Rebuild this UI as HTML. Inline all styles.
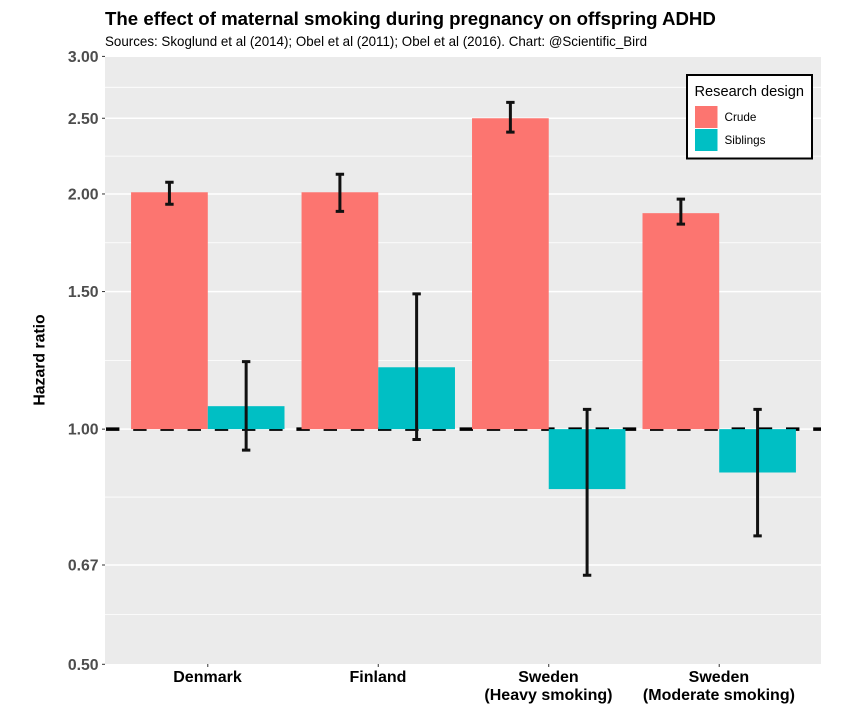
<!DOCTYPE html>
<html lang="en">
<head>
<meta charset="utf-8">
<title>The effect of maternal smoking during pregnancy on offspring ADHD</title>
<style>
html,body{margin:0;padding:0;background:#fff;width:850px;height:726px;overflow:hidden}
svg{display:block}
text{font-family:"Liberation Sans",Arial,sans-serif}
</style>
</head>
<body>
<svg id="chart" xmlns="http://www.w3.org/2000/svg" width="850" height="726" viewBox="0 0 850 726">
  <rect width="850" height="726" fill="#ffffff"/>
  <text x="105" y="25" font-size="18.67" font-weight="700" fill="#000">The effect of maternal smoking during pregnancy on offspring ADHD</text>
  <text x="105" y="46" font-size="13.36" fill="#000">Sources: Skoglund et al (2014); Obel et al (2011); Obel et al (2016). Chart: @Scientific_Bird</text>
  <rect x="105" y="57" width="716" height="607" fill="#EBEBEB"/>
  <g id="grid"></g>
  <g id="refline"></g>
  <g id="bars"></g>
  <g id="errors"></g>
  <g id="yaxis"></g>
  <g id="xaxis"></g>
  <text transform="translate(44.5,360) rotate(-90)" text-anchor="middle" font-size="15.8" font-weight="700" fill="#000">Hazard ratio</text>
  <g>
    <rect x="687" y="75" width="125" height="83.5" fill="#fff" stroke="#000" stroke-width="2"/>
    <text x="694.5" y="96" font-size="14.6" fill="#000">Research design</text>
    <rect x="695" y="106" width="22.5" height="22" fill="#FC7570"/>
    <text x="724.5" y="121" font-size="11.7" fill="#000">Crude</text>
    <rect x="695" y="129" width="22.5" height="22" fill="#00BFC4"/>
    <text x="724.5" y="144" font-size="11.7" fill="#000">Siblings</text>
  </g>
</svg>
<script>
const categories = [["Denmark"], ["Finland"], ["Sweden", "(Heavy smoking)"], ["Sweden", "(Moderate smoking)"]];
const crudeValues = [2.01, 2.01, 2.50, 1.89];
const crudeLower = [1.94, 1.90, 2.40, 1.83];
const crudeUpper = [2.07, 2.12, 2.62, 1.97];
const siblingValues = [1.07, 1.20, 0.838, 0.88];
const siblingLower = [0.94, 0.97, 0.65, 0.73];
const siblingUpper = [1.22, 1.49, 1.06, 1.06];
const yTickValues = [0.5, 0.67, 1, 1.5, 2, 2.5, 3];
const yTickLabels = ["0.50", "0.67", "1.00", "1.50", "2.00", "2.50", "3.00"];
const referenceValue = [1];

const NS = "http://www.w3.org/2000/svg";
const panel = { left: 105, right: 821, top: 56.4, bottom: 664.3 };
const yMin = Math.min(...yTickValues);
const yMax = Math.max(...yTickValues);
const unitWidth = (panel.right - panel.left) / (categories.length - 1 + 1.2);
const barWidth = unitWidth * 0.45;

function xBand(i) {
  return panel.left + 0.6 * unitWidth + i * unitWidth + 0.5;
}
function yScale(v) {
  const t = (Math.log(v) - Math.log(yMin)) / (Math.log(yMax) - Math.log(yMin));
  return panel.bottom - t * (panel.bottom - panel.top);
}
function make(tag, attrs, parent) {
  const el = document.createElementNS(NS, tag);
  for (const k in attrs) el.setAttribute(k, attrs[k]);
  parent.appendChild(el);
  return el;
}

const grid = document.getElementById("grid");
const refGroup = document.getElementById("refline");
const barsGroup = document.getElementById("bars");
const errGroup = document.getElementById("errors");
const yGroup = document.getElementById("yaxis");
const xGroup = document.getElementById("xaxis");

yTickValues.forEach(function (v, i) {
  const y = yScale(v);
  if (i > 0 && i < yTickValues.length - 1) {
    const major = make("line", { x1: panel.left, x2: panel.right, y1: y, y2: y, stroke: "#fff", "stroke-width": 1.5 }, grid);
    
    
  }
  if (i > 0) {
    const ym = yScale(Math.sqrt(v * yTickValues[i - 1]));
    const minor = make("line", { x1: panel.left, x2: panel.right, y1: ym, y2: ym, stroke: "#fff", "stroke-width": 0.8 }, grid);
    
    
  }
  const tick = make("line", { x1: panel.left - 3, x2: panel.left, y1: y, y2: y, stroke: "#333", "stroke-width": 1 }, yGroup);
  
  
  const label = make("text", { x: 98.6, y: y + 5.6, "text-anchor": "end", "font-size": 15.8, "font-weight": 700, fill: "#4D4D4D" }, yGroup);
  label.textContent = yTickLabels[i];
  
  
});

referenceValue.forEach(function (v) {
  const ref = make("line", { x1: panel.left + 1, x2: panel.right, y1: yScale(v), y2: yScale(v), stroke: "#000", "stroke-width": 3.4, "stroke-dasharray": "13.4 13.8" }, refGroup);
  
  
});

function drawBar(i, value, side, fill, name) {
  const x = side < 0 ? xBand(i) - barWidth : xBand(i);
  const y0 = yScale(referenceValue[0]);
  const y1 = yScale(value);
  const bar = make("rect", { x: x, y: Math.min(y0, y1), width: barWidth, height: Math.abs(y1 - y0), fill: fill }, barsGroup);
  
  
}
function drawError(i, lo, hi, side, name) {
  const x = xBand(i) + side * barWidth / 2;
  const yLo = yScale(lo);
  const yHi = yScale(hi);
  const cap = 4.2;
  const d = "M" + x + " " + yHi + "V" + yLo + "M" + (x - cap) + " " + yHi + "H" + (x + cap) + "M" + (x - cap) + " " + yLo + "H" + (x + cap);
  const err = make("path", { d: d, fill: "none", stroke: "#111", "stroke-width": 3 }, errGroup);
  
  
}

categories.forEach(function (lines, i) {
  drawBar(i, crudeValues[i], -1, "#FC7570", "bar-crude");
  drawBar(i, siblingValues[i], 1, "#00BFC4", "bar-siblings");
  drawError(i, crudeLower[i], crudeUpper[i], -1, "error-bar-crude");
  drawError(i, siblingLower[i], siblingUpper[i], 1, "error-bar-siblings");
  const x = xBand(i);
  const tick = make("line", { x1: x, x2: x, y1: 664, y2: 667, stroke: "#333", "stroke-width": 1 }, xGroup);
  
  
  lines.forEach(function (line, j) {
    const label = make("text", { x: x - 0.3, y: 682 + j * 18.2, "text-anchor": "middle", "font-size": 16, "font-weight": 700, fill: "#000" }, xGroup);
    label.textContent = line;
    
    
  });
});
</script>
</body>
</html>
